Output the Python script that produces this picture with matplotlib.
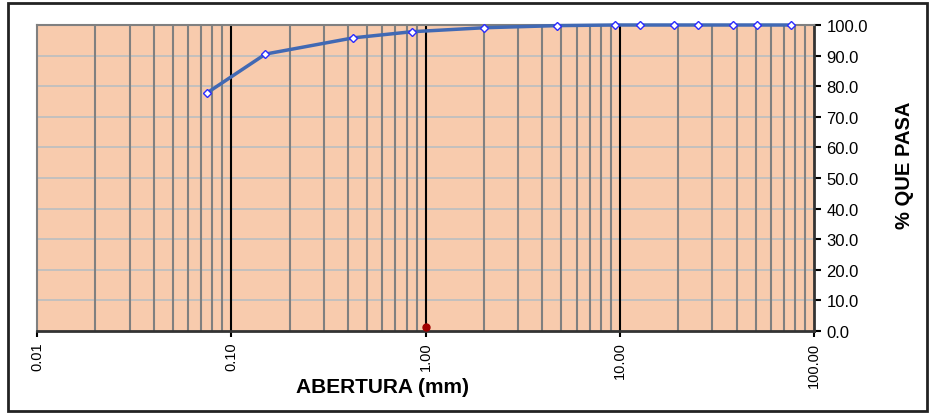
import numpy as np
import matplotlib.pyplot as plt
from matplotlib.patches import Rectangle
from matplotlib.ticker import FixedLocator, FuncFormatter

plt.rcParams['font.family'] = ['Liberation Sans', 'DejaVu Sans']

# sieve openings (mm) and percent passing
abertura = [0.075, 0.15, 0.425, 0.85, 2.0, 4.75, 9.5, 12.7, 19.05, 25.4, 38.1, 50.8, 76.2]
pasa = [77.8, 90.5, 95.8, 97.8, 99.1, 99.8, 100.0, 100.0, 100.0, 100.0, 100.0, 100.0, 100.0]

# extra point near the bottom
punto_x = [1.0]
punto_y = [1.2]

fig = plt.figure(figsize=(9.31, 4.14), dpi=100)
ax = fig.add_axes([37/931, 82/414, 777/931, 306/414])

ax.set_facecolor('#F8CBAD')
ax.set_xscale('log')
ax.set_xlim(0.01, 100)
ax.set_ylim(0, 100)

# grid: gray minor, black majors, light horizontals
for dec in [0.01, 0.1, 1, 10]:
    for m in range(2, 10):
        ax.axvline(dec*m, color='#808080', lw=1.5, zorder=1)
for dec in [0.1, 1, 10]:
    ax.axvline(dec, color='black', lw=1.5, zorder=1)
for yy in range(10, 101, 10):
    ax.axhline(yy, color='#BFBFBF', lw=1.3, zorder=0.5)

ax.plot(abertura, pasa, color='#4169B4', lw=2.5, marker='D', ms=4.5,
        mfc='white', mec='#2B2BFF', mew=1.0, zorder=3, clip_on=False)
ax.plot(punto_x, punto_y, 'o', color='#A00000', ms=5, zorder=4, clip_on=False)

ax.xaxis.set_major_locator(FixedLocator([0.01, 0.1, 1, 10, 100]))
ax.xaxis.set_minor_locator(FixedLocator([]))
ax.xaxis.set_major_formatter(FuncFormatter(lambda v, p: '%.2f' % v))
ax.tick_params(axis='x', labelrotation=90, labelsize=10.5, length=4, width=1.5, direction='out')

ax.yaxis.tick_right()
ax.yaxis.set_label_position('right')
ax.set_yticks(np.arange(0, 101, 10))
ax.yaxis.set_major_formatter(FuncFormatter(lambda v, p: '%.1f' % v))
ax.tick_params(axis='y', labelsize=12, length=5, width=1.5, direction='out', pad=4)

for s in ['left', 'top']:
    ax.spines[s].set_color('#808080')
    ax.spines[s].set_linewidth(1.5)
for s in ['bottom', 'right']:
    ax.spines[s].set_color('#333333')
    ax.spines[s].set_linewidth(2)

fig.text(383/931, 1 - 388/414, 'ABERTURA (mm)', ha='center', va='center',
         fontsize=15, fontweight='bold')
fig.text(905/931, 1 - 165/414, '% QUE PASA', ha='center', va='center',
         rotation=90, fontsize=14.5, fontweight='bold')

fig.patches.append(Rectangle((8/931, 2/414), 919/931, 408/414, transform=fig.transFigure,
                             fill=False, edgecolor='#222222', lw=2))

fig.savefig('out.png', dpi=100)
